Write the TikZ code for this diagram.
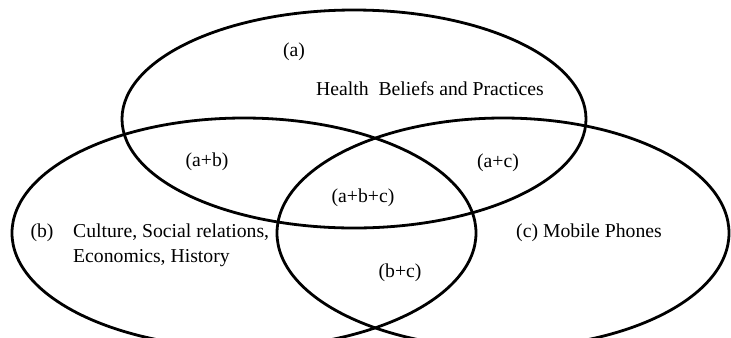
\documentclass[tikz,border=0pt]{standalone}
\usepackage{fontspec}
\setmainfont{Liberation Serif}
\begin{document}
\begin{tikzpicture}[x=1bp,y=-1bp,
  ring/.style={draw=black,line width=2.8bp},
  lbl/.style={inner sep=0pt,font=\fontsize{19.7bp}{25bp}\selectfont}]
\useasboundingbox (0,0) rectangle (731,337);
% the three overlapping sets
\draw[ring] (354,119) ellipse [x radius=232bp, y radius=109bp];
\draw[ring] (244,233) ellipse [x radius=232bp, y radius=115bp];
\draw[ring] (503,233) ellipse [x radius=226bp, y radius=115bp];
% set labels
\node[lbl] (la) at (294,52) {(a)};
\node[lbl] (lhealth) at (430,89) {Health\ \ Beliefs and Practices};
\node[lbl] (lb) at (42,233) {(b)};
\node[lbl,anchor=west,align=left] (lculture) at (73,245) {Culture, Social relations,\\Economics, History};
\node[lbl] (lc) at (589,233) {(c) Mobile Phones};
% overlap labels
\node[lbl] (lab) at (207,162) {(a+b)};
\node[lbl] (lac) at (498,163) {(a+c)};
\node[lbl] (labc) at (363,198) {(a+b+c)};
\node[lbl] (lbc) at (400,273) {(b+c)};
\end{tikzpicture}
\end{document}
